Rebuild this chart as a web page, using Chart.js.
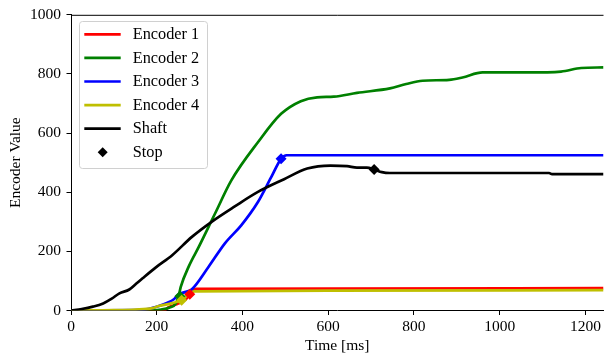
<!DOCTYPE html>
<html>
<head>
<meta charset="utf-8">
<script src="https://cdn.jsdelivr.net/npm/chart.js@4.4.1/dist/chart.umd.min.js"></script>
<style>
  body { margin: 0; background: #fff; }
  #encoderChart { display: block; }
</style>
</head>
<body>
<canvas id="encoderChart" width="609" height="356"></canvas>
<script>
// values
const timeEnc1 = [0, 215, 228, 251, 268, 277, 285, 292, 600, 1242];
const enc1 = [0, 0, 11, 24, 38, 55, 68, 73, 74, 76];

const timeEnc2 = [0, 180, 210, 230, 245, 252, 256, 275, 298, 336, 374, 436, 490, 536, 574, 613, 667, 744, 782, 820, 882, 913, 960, 1066, 1143, 1190, 1242];
const enc2 = [0, 0, 3, 10, 25, 55, 80, 150, 215, 328, 440, 569, 665, 708, 721, 723, 736, 751, 766, 777, 780, 788, 805, 805, 808, 820, 822];

const timeEnc3 = [0, 150, 180, 205, 225, 240, 251, 268, 282, 321, 359, 397, 436, 467, 490, 503, 1242];
const enc3 = [0, 1, 5, 15, 26, 38, 55, 63, 72, 148, 227, 288, 367, 451, 513, 525, 525];

const timeEnc4 = [0, 100, 150, 190, 205, 236, 258, 272, 288, 600, 1242];
const enc4 = [0, 1, 3, 8, 15, 25, 35, 52, 65, 67, 69];

const timeShaft = [0, 25, 51, 75, 95, 113, 136, 150, 167, 198, 236, 282, 328, 382, 436, 497, 551, 605, 644, 667, 690, 707, 725, 744, 800, 1000, 1115, 1122, 1242];
const shaft = [0, 5, 13, 24, 40, 58, 71, 88, 109, 146, 187, 249, 300, 352, 401, 444, 480, 490, 488, 483, 483, 477, 468, 465, 465, 465, 465, 461, 461];

// stop points: enc2, enc1, enc4, enc3, shaft
const stopTime = [254, 277, 258, 490, 707];
const stopValue = [48, 55, 35, 513, 477];

const xTicks = [0, 200, 400, 600, 800, 1000, 1200];
const yTicks = [0, 200, 400, 600, 800, 1000];

const serif = '"Liberation Serif", "Times New Roman", serif';

function pts(ts, vs) {
  return ts.map((t, i) => ({ x: t, y: vs[i] }));
}

function lineSet(label, ts, vs, color, order) {
  return {
    label: label,
    data: pts(ts, vs),
    borderColor: color,
    backgroundColor: color,
    borderWidth: 2.7,
    pointRadius: 0,
    cubicInterpolationMode: 'monotone',
    order: order
  };
}

// matplotlib-like frame: top spine + legend box
const framePlugin = {
  id: 'frame',
  afterDatasetsDraw(chart) {
    const ctx = chart.ctx;
    const a = chart.chartArea;
    ctx.save();
    ctx.strokeStyle = '#000';
    ctx.lineWidth = 1;
    ctx.beginPath();
    ctx.moveTo(a.left, a.top + 0.5);
    ctx.lineTo(a.right, a.top + 0.5);
    ctx.stroke();

    // legend
    const bx = 79.5, by = 21.5, bw = 128, bh = 147, r = 3;
    ctx.beginPath();
    ctx.moveTo(bx + r, by);
    ctx.arcTo(bx + bw, by, bx + bw, by + bh, r);
    ctx.arcTo(bx + bw, by + bh, bx, by + bh, r);
    ctx.arcTo(bx, by + bh, bx, by, r);
    ctx.arcTo(bx, by, bx + bw, by, r);
    ctx.closePath();
    ctx.fillStyle = 'rgba(255,255,255,0.8)';
    ctx.fill();
    ctx.strokeStyle = '#d0d0d0';
    ctx.stroke();

    const rows = chart.data.datasets;
    ctx.font = '16.3px ' + serif;
    ctx.textBaseline = 'middle';
    ctx.textAlign = 'left';
    rows.forEach((ds, i) => {
      const y = 34.3 + i * 23.6;
      if (ds.type === 'scatter') {
        ctx.fillStyle = '#000';
        ctx.beginPath();
        ctx.moveTo(102.7, y - 5);
        ctx.lineTo(107.7, y);
        ctx.lineTo(102.7, y + 5);
        ctx.lineTo(97.7, y);
        ctx.closePath();
        ctx.fill();
      } else {
        ctx.strokeStyle = ds.borderColor;
        ctx.lineWidth = 2.7;
        ctx.beginPath();
        ctx.moveTo(84.3, y);
        ctx.lineTo(120.7, y);
        ctx.stroke();
      }
      ctx.fillStyle = '#000';
      ctx.fillText(ds.label, 132.7, y + 0.5);
    });
    ctx.restore();
  }
};

const encoderChart = document.getElementById('encoderChart');

new Chart(encoderChart, {
  type: 'line',
  data: {
    datasets: [
      lineSet('Encoder 1', timeEnc1, enc1, '#ff0000', 6),
      lineSet('Encoder 2', timeEnc2, enc2, '#008000', 5),
      lineSet('Encoder 3', timeEnc3, enc3, '#0000ff', 4),
      lineSet('Encoder 4', timeEnc4, enc4, '#bfbf00', 3),
      lineSet('Shaft', timeShaft, shaft, '#000000', 2),
      {
        type: 'scatter',
        label: 'Stop',
        data: pts(stopTime, stopValue),
        pointStyle: 'rectRot',
        pointRadius: 5.5,
        pointBorderWidth: 0,
        pointBackgroundColor: ['#008000', '#ff0000', '#bfbf00', '#0000ff', '#000000'],
        showLine: false,
        order: 1
      }
    ]
  },
  options: {
    responsive: false,
    animation: false,
    layout: { padding: { top: 14, right: 0, left: 0, bottom: 0 } },
    plugins: {
      legend: { display: false },
      tooltip: { enabled: false }
    },
    scales: {
      x: {
        type: 'linear',
        min: 0,
        max: 1242,
        afterFit: (s) => { s.height = 45.5; },
        afterBuildTicks: (s) => { s.ticks = xTicks.map(v => ({ value: v })); },
        ticks: { color: '#000', padding: 2.5, font: { family: serif, size: 15.5 }, callback: (v) => String(v) },
        grid: { drawOnChartArea: false, tickLength: 4.5, tickColor: '#000', tickWidth: 1 },
        border: { color: '#000', width: 1 },
        title: { display: true, text: 'Time [ms]', color: '#000', padding: { top: 0, bottom: 1 }, font: { family: serif, size: 15.5 } }
      },
      y: {
        min: 0,
        max: 1000,
        afterFit: (s) => { s.width = 71; },
        afterBuildTicks: (s) => { s.ticks = yTicks.map(v => ({ value: v })); },
        ticks: { color: '#000', padding: 5.5, font: { family: serif, size: 15.5 }, callback: (v) => String(v) },
        grid: { drawOnChartArea: false, tickLength: 4.5, tickColor: '#000', tickWidth: 1 },
        border: { color: '#000', width: 1 },
        title: { display: true, text: 'Encoder Value', color: '#000', padding: { top: 7, bottom: 0 }, font: { family: serif, size: 15.5 } }
      }
    }
  },
  plugins: [framePlugin]
});
</script>
</body>
</html>
